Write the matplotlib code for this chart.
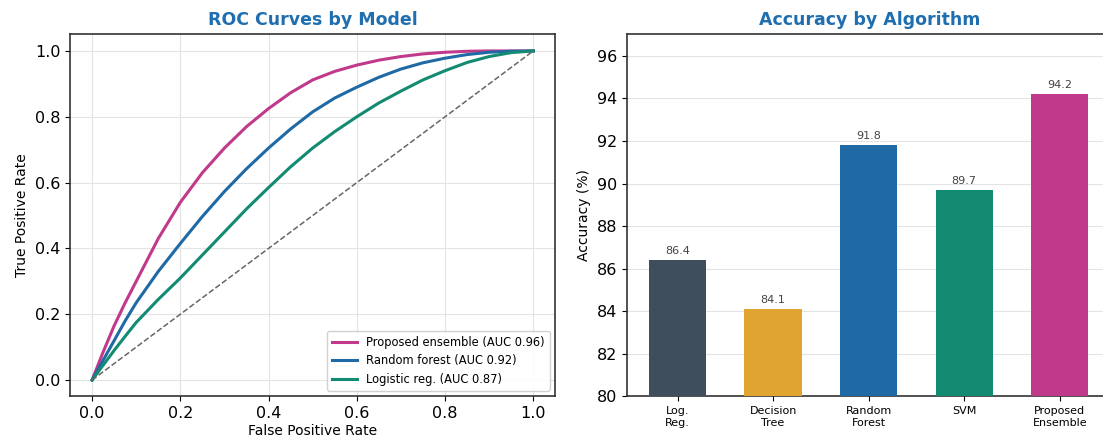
import matplotlib
matplotlib.use("Agg")
import matplotlib.pyplot as plt
import numpy as np

# ROC curve points
fpr = [0.0, 0.025, 0.05, 0.075, 0.1, 0.15, 0.2, 0.25, 0.3, 0.35, 0.4, 0.45,
       0.5, 0.55, 0.6, 0.65, 0.7, 0.75, 0.8, 0.85, 0.9, 0.95, 1.0]
tpr_ensemble = [0.0, 0.085, 0.165, 0.235, 0.30, 0.43, 0.54, 0.63, 0.705, 0.77,
                0.825, 0.873, 0.912, 0.938, 0.957, 0.972, 0.983, 0.991, 0.996,
                0.999, 1.0, 1.0, 1.0]
tpr_forest = [0.0, 0.06, 0.12, 0.18, 0.235, 0.33, 0.415, 0.497, 0.573, 0.642,
              0.705, 0.763, 0.815, 0.857, 0.89, 0.92, 0.945, 0.964, 0.978,
              0.989, 0.996, 0.999, 1.0]
tpr_logistic = [0.0, 0.045, 0.09, 0.133, 0.175, 0.245, 0.31, 0.38, 0.45, 0.52,
                0.585, 0.648, 0.705, 0.755, 0.80, 0.842, 0.878, 0.912, 0.94,
                0.965, 0.983, 0.995, 1.0]
roc_labels = [
    "Proposed ensemble (AUC 0.96)",
    "Random forest (AUC 0.92)",
    "Logistic reg. (AUC 0.87)",
]

algorithms = ["Log.\nReg.", "Decision\nTree", "Random\nForest", "SVM", "Proposed\nEnsemble"]
accuracy = [86.4, 84.1, 91.8, 89.7, 94.2]

pink = "#c0398a"
blue = "#1f6aa5"
green = "#138a72"
bar_colors = ["#3e4e5c", "#e0a430", blue, green, pink]
title_color = "#1f6fb0"

fig = plt.figure(figsize=(11.03, 4.48), dpi=100)
ax1 = fig.add_axes([0.0635, 0.115, 0.44, 0.808])
ax2 = fig.add_axes([0.5684, 0.115, 0.44, 0.808])

# Left: ROC curves
ax1.plot(fpr, tpr_ensemble, color=pink, lw=2.2, label=roc_labels[0])
ax1.plot(fpr, tpr_forest, color=blue, lw=2.2, label=roc_labels[1])
ax1.plot(fpr, tpr_logistic, color=green, lw=2.2, label=roc_labels[2])
ax1.plot([0, 1], [0, 1], color="#666666", ls="--", lw=1.1)
ax1.set_xlim(-0.05, 1.05)
ax1.set_ylim(-0.05, 1.05)
ax1.set_xticks(np.arange(0, 1.01, 0.2))
ax1.set_yticks(np.arange(0, 1.01, 0.2))
ax1.tick_params(labelsize=11.5)
ax1.set_xlabel("False Positive Rate", fontsize=10, labelpad=2)
ax1.set_ylabel("True Positive Rate", fontsize=10)
ax1.set_title("ROC Curves by Model", fontsize=12.5, fontweight="bold", color=title_color, pad=7)
ax1.grid(True, color="#e4e4e4", lw=0.8)
ax1.legend(loc="lower right", fontsize=8.3, framealpha=0.9, handlelength=2.2)
for s in ax1.spines.values():
    s.set_linewidth(1.2)
    s.set_color("#333333")

# Right: accuracy bars
x = np.arange(len(algorithms))
bars = ax2.bar(x, accuracy, width=0.6, color=bar_colors, zorder=3)
for b, v in zip(bars, accuracy):
    ax2.text(b.get_x() + b.get_width() / 2, v + 0.2, f"{v:.1f}",
             ha="center", va="bottom", fontsize=8, color="#444444")
ax2.set_xticks(x)
ax2.set_xticklabels(algorithms, fontsize=8)
ax2.set_xlim(-0.53, 4.55)
ax2.set_ylim(80, 97)
ax2.set_yticks(np.arange(80, 97, 2))
ax2.tick_params(axis="y", labelsize=11.5)
ax2.set_ylabel("Accuracy (%)", fontsize=10)
ax2.set_title("Accuracy by Algorithm", fontsize=12.5, fontweight="bold", color=title_color, pad=7)
ax2.grid(True, axis="y", color="#e4e4e4", lw=0.8, zorder=0)
for s in ax2.spines.values():
    s.set_linewidth(1.2)
    s.set_color("#333333")

fig.savefig("out.png", dpi=100)
